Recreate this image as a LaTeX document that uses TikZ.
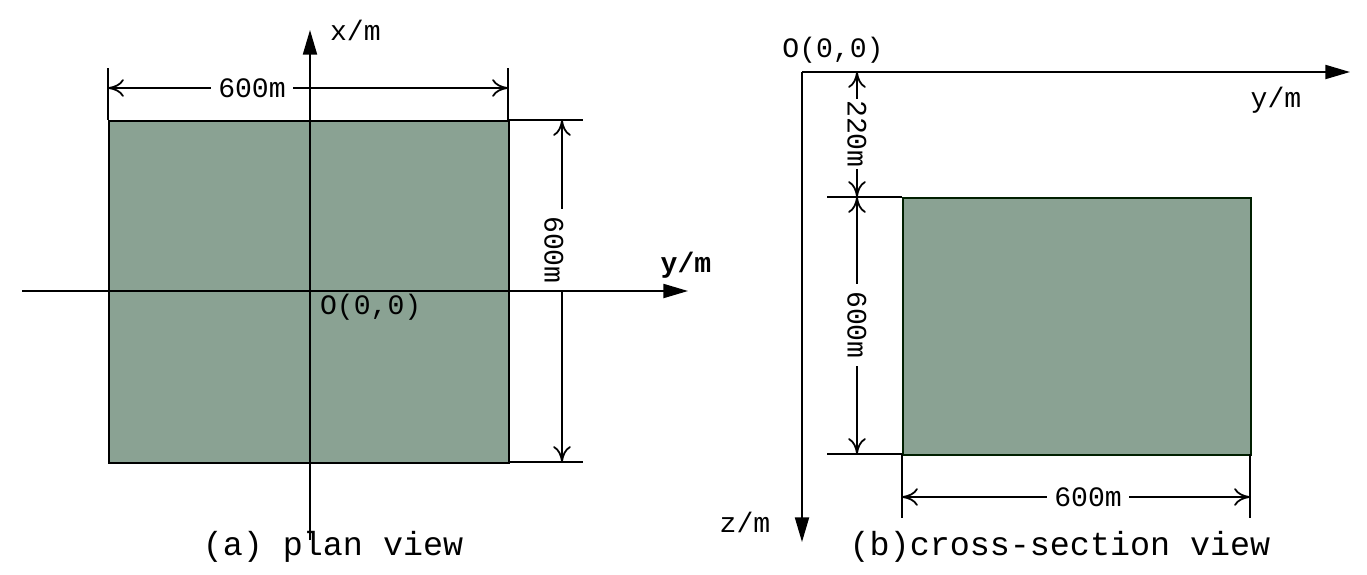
\documentclass[tikz,border=0pt]{standalone}
\usepackage{fontspec}
\setmainfont{Liberation Mono}
\usetikzlibrary{arrows.meta}
\definecolor{fillg}{HTML}{8AA293}
\begin{document}
\begin{tikzpicture}[x=0.02cm,y=-0.02cm,
  ax/.style={line width=1pt,-{Triangle[length=14pt,width=8pt]}},
  dim/.style={line width=1pt,{To[length=9pt,width=10pt]}-{To[length=9pt,width=10pt]}},
  ext/.style={line width=0.8pt},
  lab/.style={font=\fontsize{16}{18}\selectfont,inner sep=1pt},
  dl/.style={lab,fill=white,inner xsep=4pt},
  big/.style={font=\fontsize{19}{21}\selectfont,inner sep=1pt}]
\useasboundingbox (0,0) rectangle (1367,575);
% (a)
\node[draw=black,line width=1pt,fill=fillg,minimum width=400*0.02cm,minimum height=342*0.02cm,inner sep=0,anchor=north west] (ra) at (108,120) {};
\coordinate (e3a) at (508,120); \coordinate (e3b) at (583,120);
\coordinate (e4a) at (508,462); \coordinate (e4b) at (583,462);
\draw[ext] (e3a)--(e3b); \draw[ext] (e4a)--(e4b);
\coordinate (d3) at (562,120); \coordinate (d4) at (562,462);
\draw[dim] (d3) -- (d4);
\node[dl,rotate=-90] (t2) at (554,250) {600m};
\coordinate (hl) at (22,291); \coordinate (hr) at (688,291);
\coordinate (vb) at (310,540); \coordinate (vt) at (310,30);
\draw[ax] (hl) -- (hr);
\draw[ax] (vb) -- (vt);
\node[lab,anchor=west] (xl) at (328,30) {x/m};
\node[lab,anchor=center,font=\bfseries\fontsize{16}{18}\selectfont] (yl) at (686,265) {y/m};
\node[lab,anchor=west] (oa) at (318,307) {O(0,0)};
\coordinate (e1a) at (108,68); \coordinate (e1b) at (108,120);
\coordinate (e2a) at (508,68); \coordinate (e2b) at (508,120);
\draw[ext] (e1a)--(e1b); \draw[ext] (e2a)--(e2b);
\coordinate (d1) at (108,88); \coordinate (d2) at (508,88);
\draw[dim] (d1) -- (d2);
\node[dl] (t1) at (252,88) {600m};
\node[big] (ca) at (333,547) {(a) plan view};
% (b)
\coordinate (o) at (802,72); \coordinate (yr) at (1350,72); \coordinate (zb) at (802,542);
\draw[ax] (o) -- (yr);
\draw[ax] (o) -- (zb);
\node[lab] (ob) at (833,50) {O(0,0)};
\node[lab] (yb) at (1276,100) {y/m};
\node[lab] (zl) at (745,522) {z/m};
\node[draw=black!70!green!40!black,line width=1pt,fill=fillg,minimum width=348*0.02cm,minimum height=257*0.02cm,inner sep=0,anchor=north west] (rb) at (902,197) {};
\coordinate (f1a) at (827,197); \coordinate (f1b) at (902,197);
\coordinate (f2a) at (827,454); \coordinate (f2b) at (902,454);
\draw[ext] (f1a)--(f1b); \draw[ext] (f2a)--(f2b);
\coordinate (g0) at (857,72); \coordinate (g1) at (857,197); \coordinate (g2) at (857,454);
\draw[dim] (g0) -- (g1);
\draw[dim] (g1) -- (g2);
\node[lab,fill=white,rotate=-90] (t3) at (857,134) {220m};
\node[dl,rotate=-90] (t4) at (857,325) {600m};
\coordinate (h1a) at (902,454); \coordinate (h1b) at (902,518);
\coordinate (h2a) at (1250,454); \coordinate (h2b) at (1250,518);
\draw[ext] (h1a)--(h1b); \draw[ext] (h2a)--(h2b);
\coordinate (k1) at (902,497); \coordinate (k2) at (1250,497);
\draw[dim] (k1) -- (k2);
\node[dl] (t5) at (1088,497) {600m};
\node[big] (cb) at (1060,547) {(b)cross-section view};
\end{tikzpicture}
\end{document}
